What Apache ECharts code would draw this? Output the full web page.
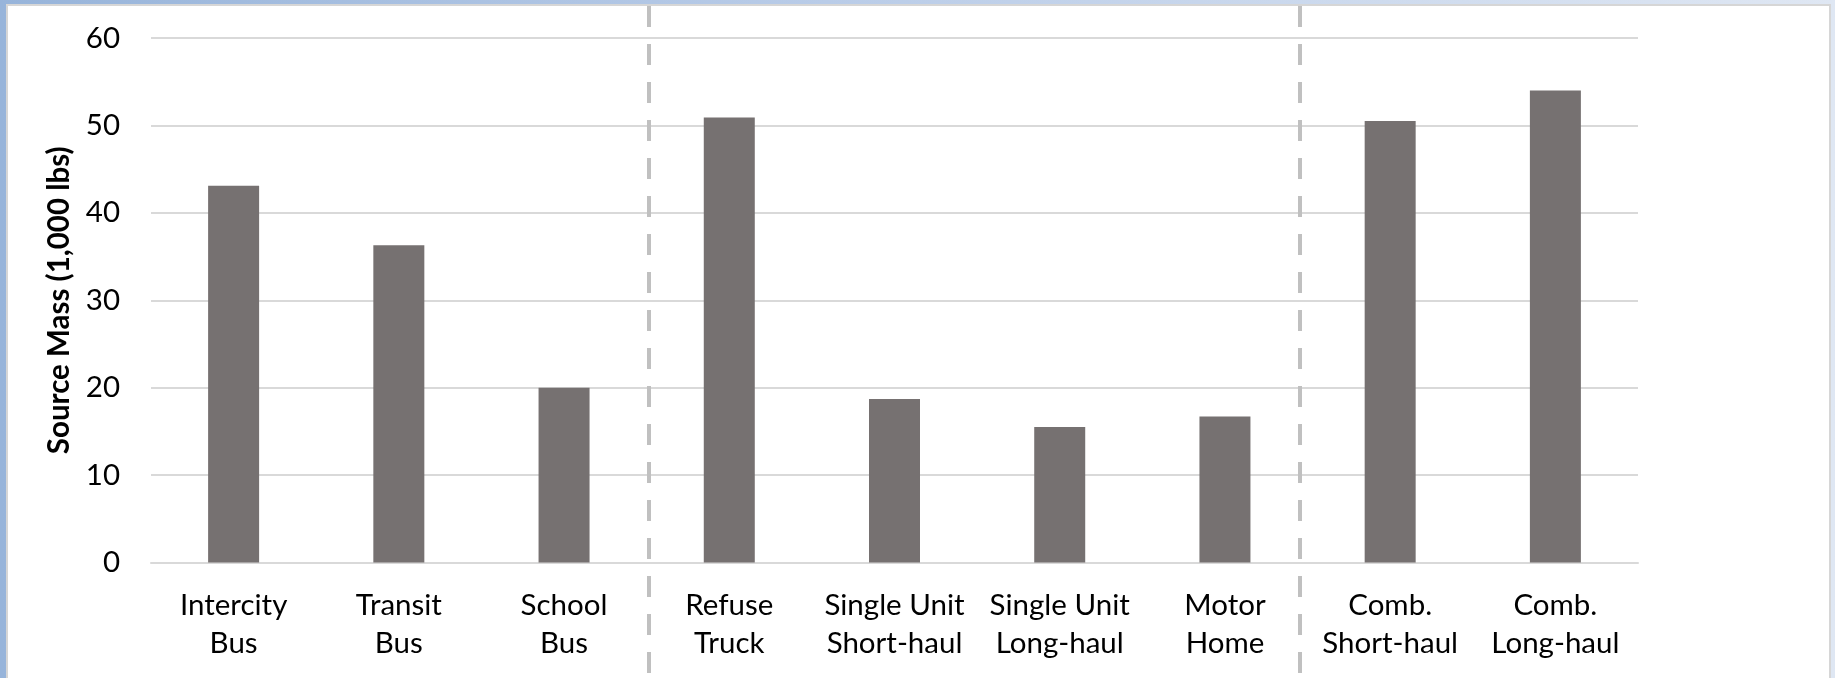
<!DOCTYPE html>
<html>
<head>
<meta charset="utf-8">
<title>Source Mass by Vehicle Type</title>
<script src="https://cdn.jsdelivr.net/npm/echarts@6/dist/echarts.min.js"></script>
<style>
  html, body { margin: 0; padding: 0; }
  body {
    width: 1835px; height: 678px; overflow: hidden; position: relative;
    background: linear-gradient(to right, #97b4da 0%, #b9cce8 45%, #dfe7f3 100%);
  }
  #panel {
    position: absolute; left: 6px; top: 4px; width: 1825px; height: 680px;
    box-sizing: border-box; background: #ffffff;
    border-left: 2px solid #d6d6d6; border-top: 2px solid #d6d6d6; border-right: 2px solid #d6d6d6;
  }
  #chart { position: absolute; left: 0; top: 0; width: 1835px; height: 678px; }
</style>
</head>
<body>
<div id="panel"></div>
<div id="chart"></div>
<script>
// Vehicle categories (two-line labels)
const categories = [
  'Intercity\nBus', 'Transit\nBus', 'School\nBus',
  'Refuse\nTruck', 'Single Unit\nShort-haul', 'Single Unit\nLong-haul', 'Motor\nHome',
  'Comb.\nShort-haul', 'Comb.\nLong-haul'
];
// Source mass, thousands of pounds
const sourceMass = [43.1, 36.3, 20.0, 50.9, 18.7, 15.5, 16.7, 50.5, 54.0];
// Y-axis ticks
const yTicks = [0, 10, 20, 30, 40, 50, 60];
// Group separators, in category-slot units from the left edge of the plot
const separators = [3.01, 6.95];

const FONT = 'Lato';
const chart = echarts.init(document.getElementById('chart'), null, { renderer: 'canvas' });

chart.setOption({
  backgroundColor: 'transparent',
  animation: false,
  textStyle: { fontFamily: FONT },
  grid: [
    { left: 151, right: 197, top: 38, bottom: 115.5 },
    { left: 151, right: 197, top: 6, bottom: 0 }
  ],
  xAxis: [
    {
      gridIndex: 0,
      type: 'category',
      data: categories,
      boundaryGap: true,
      axisLine: { show: true, lineStyle: { color: '#d9d9d9', width: 2 } },
      axisTick: { show: false },
      axisLabel: {
        color: '#000000', fontSize: 29.5, fontFamily: FONT,
        lineHeight: 38, margin: 24, interval: 0
      }
    },
    {
      gridIndex: 1, type: 'value', min: 0, max: categories.length, show: false
    }
  ],
  yAxis: [
    {
      gridIndex: 0,
      type: 'value',
      min: yTicks[0],
      max: yTicks[yTicks.length - 1],
      interval: yTicks[1] - yTicks[0],
      name: 'Source Mass (1,000 lbs)',
      nameLocation: 'middle',
      nameGap: 73,
      nameTextStyle: { color: '#000000', fontSize: 29.5, fontWeight: 'bold', fontFamily: FONT },
      axisLine: { show: false },
      axisTick: { show: false },
      axisLabel: { color: '#000000', fontSize: 29.5, fontFamily: FONT, margin: 31 },
      splitLine: { show: true, lineStyle: { color: '#d9d9d9', width: 2 } }
    },
    {
      gridIndex: 1, type: 'value', min: 0, max: 1, inverse: true, show: false
    }
  ],
  series: [
    {
      type: 'bar',
      xAxisIndex: 0, yAxisIndex: 0,
      data: sourceMass,
      barWidth: 51,
      itemStyle: { color: '#767171' },
      silent: true
    },
    {
      type: 'line',
      xAxisIndex: 1, yAxisIndex: 1,
      data: [],
      silent: true,
      markLine: {
        silent: true,
        symbol: ['none', 'none'],
        label: { show: false },
        lineStyle: { color: '#c0c0c0', width: 4, type: [21, 17] },
        data: separators.map(v => ({ xAxis: v }))
      }
    }
  ]
});
</script>
</body>
</html>
